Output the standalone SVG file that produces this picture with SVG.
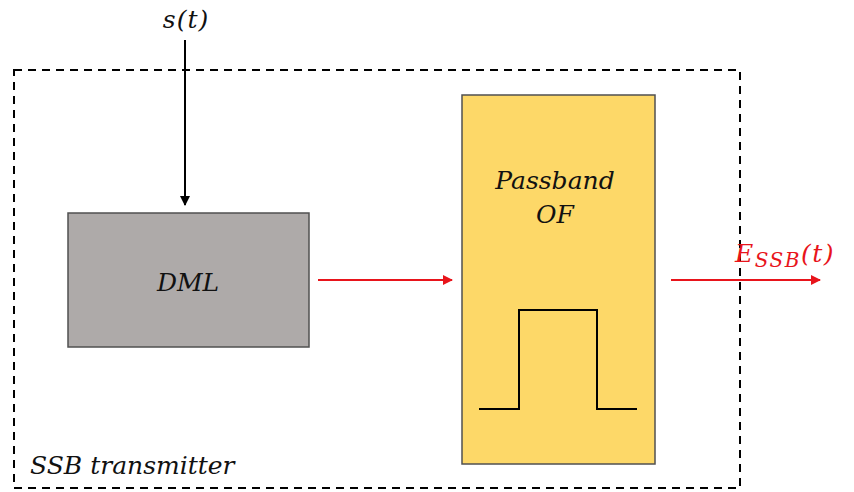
<svg xmlns="http://www.w3.org/2000/svg" width="854" height="492" viewBox="0 0 854 492">
<style>
.t{font-family:"DejaVu Serif","Liberation Serif",serif;font-style:italic;font-size:25px;fill:#111}
.r{fill:#e8141b}
.box{stroke:#505050;stroke-width:1.5}
.blk{stroke:#000;stroke-width:2;fill:none}
.red{stroke:#e8141b;stroke-width:2;fill:none}
</style>
<defs>
<marker id="ak" viewBox="0 0 10 10" refX="9" refY="5" markerWidth="5" markerHeight="5" orient="auto"><path d="M0,0L10,5L0,10z" fill="#000"/></marker>
<marker id="ar" viewBox="0 0 10 10" refX="9" refY="5" markerWidth="5" markerHeight="5" orient="auto"><path d="M0,0L10,5L0,10z" fill="#e8141b"/></marker>
</defs>
<rect width="854" height="492" fill="#fff"/>
<g id="transmitter">
<rect x="14" y="70" width="726" height="418" fill="none" stroke="#000" stroke-width="2" stroke-dasharray="8,6"/>
<text class="t" x="30" y="474" font-size="26">SSB transmitter</text>
</g>
<g id="dml">
<rect class="box" x="68" y="213" width="241" height="134" fill="#aeaaa9"/>
<text class="t" x="188" y="291" text-anchor="middle" font-size="24">DML</text>
</g>
<g id="of">
<rect class="box" x="462" y="95" width="193" height="369" fill="#fdd868"/>
<text class="t" x="555" y="189" text-anchor="middle" font-size="26">Passband</text>
<text class="t" x="555" y="223" text-anchor="middle" font-size="26">OF</text>
<path class="blk" d="M479,409H519V310H597V409H637"/>
</g>
<g id="connectors">
<path class="blk" d="M185,40V205" marker-end="url(#ak)"/>
<path class="red" d="M318,280H452" marker-end="url(#ar)"/>
<path class="red" d="M671,280H820" marker-end="url(#ar)"/>
</g>
<g id="labels">
<text class="t" x="186" y="28" text-anchor="middle" font-size="29" letter-spacing="1">s(t)</text>
<text class="t r" x="735" y="262" font-size="30" letter-spacing="1.5">E<tspan font-size="20" dy="5">SSB</tspan><tspan dy="-5">(t)</tspan></text>
</g>
</svg>
